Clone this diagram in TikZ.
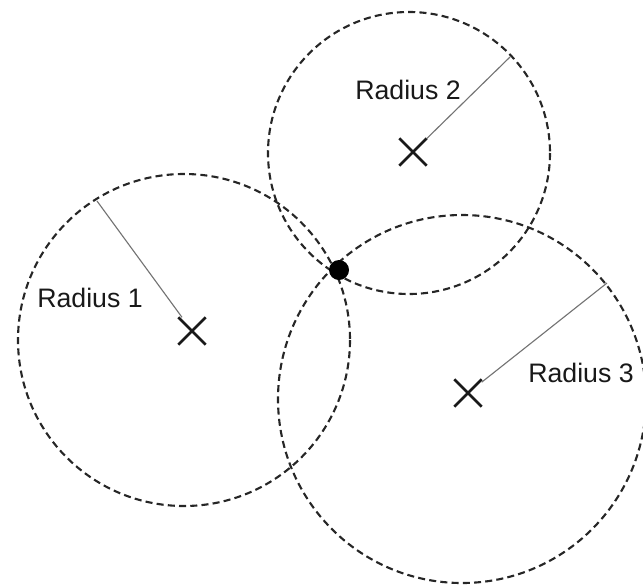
\documentclass[tikz,border=0pt]{standalone}
\usepackage{fontspec}
\setmainfont{Liberation Sans}
\usetikzlibrary{shapes.misc}

\begin{document}
\begin{tikzpicture}[x=0.025cm,y=-0.025cm,font=\fontsize{19}{21}\selectfont]
\tikzstyle{ring}=[draw=black!85,line width=1.5pt,dash pattern=on 5pt off 3pt]
\tikzstyle{xmark}=[cross out,draw=black!90,line width=1.8pt,minimum size=0.62cm,inner sep=0pt]
\tikzstyle{spoke}=[draw=black!55,line width=0.8pt]
\tikzstyle{lbl}=[anchor=base west,inner sep=0pt,text=black!90]
\useasboundingbox (0,0) rectangle (643,585);
% circle centres and radii
\coordinate (c1) at (184,340); \coordinate (c2) at (409,153); \coordinate (c3) at (462,399);
\foreach \n/\r in {1/166,2/141,3/184} \draw[ring] (c\n) circle[radius=\r];
% transmitter positions
\node[xmark] (p1) at (192,331) {};
\node[xmark] (p2) at (413,152) {};
\node[xmark] (p3) at (468,393) {};
% radius ends on the circles
\coordinate (e1) at (97,201); \coordinate (e2) at (510,57); \coordinate (e3) at (607,283);
\foreach \n in {1,2,3} \draw[spoke] (p\n) -- (e\n);
\node[lbl] (r1) at (37,307) {Radius 1};
\node[lbl] (r2) at (355,99) {Radius 2};
\node[lbl] (r3) at (528,382) {Radius 3};
% position fix
\node[circle,fill=black,minimum size=0.5cm,inner sep=0pt] (fix) at (339,270) {};
\end{tikzpicture}
\end{document}
